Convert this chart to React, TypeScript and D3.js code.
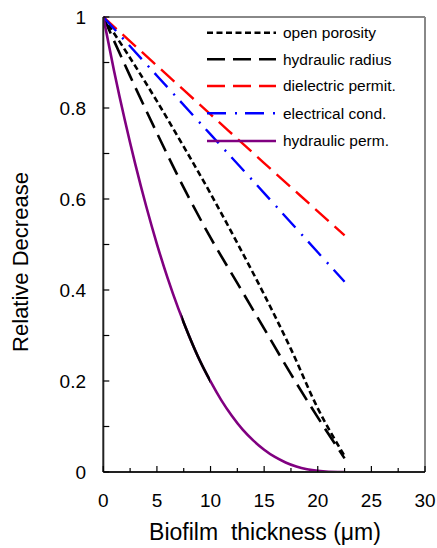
import React from "react";
import * as d3 from "d3";

const W = 437;
const H = 548;

// Biofilm thickness (µm)
const xOpen = [0, 2.5, 5, 7.5, 10, 12.5, 15, 17.5, 20, 22.5];
const openPorosity = [1, 0.91, 0.815, 0.715, 0.612, 0.503, 0.39, 0.27, 0.14, 0.035];
const hydraulicRadius = [1, 0.87, 0.745, 0.625, 0.515, 0.415, 0.315, 0.215, 0.12, 0.03];
const xLin = [0, 5, 10, 15, 20, 22.5];
const dielectricPermit = [1, 0.893, 0.786, 0.679, 0.573, 0.52];
const electricalCond = [1, 0.871, 0.742, 0.613, 0.483, 0.418];
const xPerm = [0, 1, 2, 3, 4, 5, 6, 7, 8, 9, 10, 11, 12, 13, 14, 15, 16, 17, 18, 19, 20, 21, 22, 22.5];
const hydraulicPerm = [1, 0.882, 0.774, 0.675, 0.584, 0.501, 0.426, 0.359, 0.299, 0.245, 0.199, 0.158, 0.123, 0.093, 0.069, 0.049, 0.033, 0.021, 0.012, 0.006, 0.0024, 0.0006, 0.0001, 0];
const blackOverlapRange = [7.3, 9.95];

const xTicks = [0, 5, 10, 15, 20, 25, 30];
const xMinorTicks = [2.5, 7.5, 12.5, 17.5, 22.5, 27.5];
const yTicks = [0, 0.2, 0.4, 0.6, 0.8, 1];
const yMinorTicks = [0.1, 0.3, 0.5, 0.7, 0.9];

const seriesNames = ["open porosity", "hydraulic radius", "dielectric permit.", "electrical cond.", "hydraulic perm."];

const FONT = "Arial, 'Liberation Sans', sans-serif";

export default function App() {
  const left = 103.3, right = 425, top = 17, bottom = 472;
  const x = d3.scaleLinear().domain([0, 30]).range([left, right]);
  const y = d3.scaleLinear().domain([0, 1]).range([bottom, top]);
  const line = (xs: number[], ys: number[]) =>
    d3.line<number>().x((_, i) => x(xs[i])).y((d) => y(d)).curve(d3.curveMonotoneX)(ys) || "";

  const styles = [
    { stroke: "#000", dash: "6,3.5", w: 2.6 },
    { stroke: "#000", dash: "18,8", w: 2.6 },
    { stroke: "#ff0000", dash: "18,8", w: 2.4 },
    { stroke: "#0000ff", dash: "19,9,2,8", w: 2.4 },
    { stroke: "#800080", dash: undefined, w: 2.6 },
  ];
  const paths = [
    line(xOpen, openPorosity),
    line(xOpen, hydraulicRadius),
    line(xLin, dielectricPermit),
    line(xLin, electricalCond),
    line(xPerm, hydraulicPerm),
  ];
  const legendY = [32.7, 59.3, 86, 113.3, 141];

  return (
    <svg width={W} height={H} style={{ position: "absolute", left: 0, top: 0, background: "#fff" }} fontFamily={FONT}>
      <defs>
        <clipPath id="plotClip">
          <rect x={left} y={top - 3} width={right - left} height={bottom - top + 3} />
        </clipPath>
        <clipPath id="overlapClip">
          <rect x={x(blackOverlapRange[0])} y={top} width={x(blackOverlapRange[1]) - x(blackOverlapRange[0])} height={bottom - top} />
        </clipPath>
      </defs>
      {/* frame */}
      <line x1={left} x2={right} y1={top} y2={top} stroke="#888" strokeWidth={2} />
      <line x1={right} x2={right} y1={top} y2={bottom} stroke="#888" strokeWidth={2} />
      {/* series */}
      <g clipPath="url(#plotClip)" fill="none" strokeLinecap="butt">
        {paths.map((p, i) => (
          <path key={i} d={p} stroke={styles[i].stroke} strokeWidth={styles[i].w} strokeDasharray={styles[i].dash} />
        ))}
        <path d={paths[4]} stroke="#000" strokeWidth={2.6} clipPath="url(#overlapClip)" />
      </g>
      {/* axes */}
      <line x1={left} x2={left} y1={top} y2={bottom} stroke="#222" strokeWidth={2} />
      <line x1={left} x2={right} y1={bottom} y2={bottom} stroke="#222" strokeWidth={2} />
      {xTicks.map((t) => (
        <g key={"x" + t}>
          <line x1={x(t)} x2={x(t)} y1={bottom} y2={bottom - 6} stroke="#000" strokeWidth={1.2} />
          <text x={x(t)} y={507} textAnchor="middle" fontSize={19} fill="#000">{t}</text>
        </g>
      ))}
      {xMinorTicks.map((t) => (
        <line key={"xm" + t} x1={x(t)} x2={x(t)} y1={bottom} y2={bottom - 4} stroke="#000" strokeWidth={1.2} />
      ))}
      {yTicks.map((t) => (
        <g key={"y" + t}>
          <line x1={left} x2={left + 6} y1={y(t)} y2={y(t)} stroke="#000" strokeWidth={1.2} />
          <text x={86} y={y(t)} dy="0.36em" textAnchor="end" fontSize={19} fill="#000">{t}</text>
        </g>
      ))}
      {yMinorTicks.map((t) => (
        <line key={"ym" + t} x1={left} x2={left + 6} y1={y(t)} y2={y(t)} stroke="#000" strokeWidth={1.2} />
      ))}
      {/* titles */}
      <text x={265} y={540} textAnchor="middle" fontSize={23} fill="#000" style={{ whiteSpace: "pre" }}>
        {"Biofilm  thickness ("}
        <tspan>μ</tspan>
        {"m)"}
      </text>
      <text transform={`translate(28,262) rotate(-90)`} textAnchor="middle" fontSize={22} fill="#000">
        Relative Decrease
      </text>
      {/* legend */}
      {seriesNames.map((n, i) => (
        <g key={n}>
          <line x1={207} x2={276} y1={legendY[i]} y2={legendY[i]} stroke={styles[i].stroke} strokeWidth={styles[i].w} strokeDasharray={styles[i].dash} />
          <text x={283} y={legendY[i]} dy="0.35em" fontSize={15.5} fill="#000">{n}</text>
        </g>
      ))}
    </svg>
  );
}
